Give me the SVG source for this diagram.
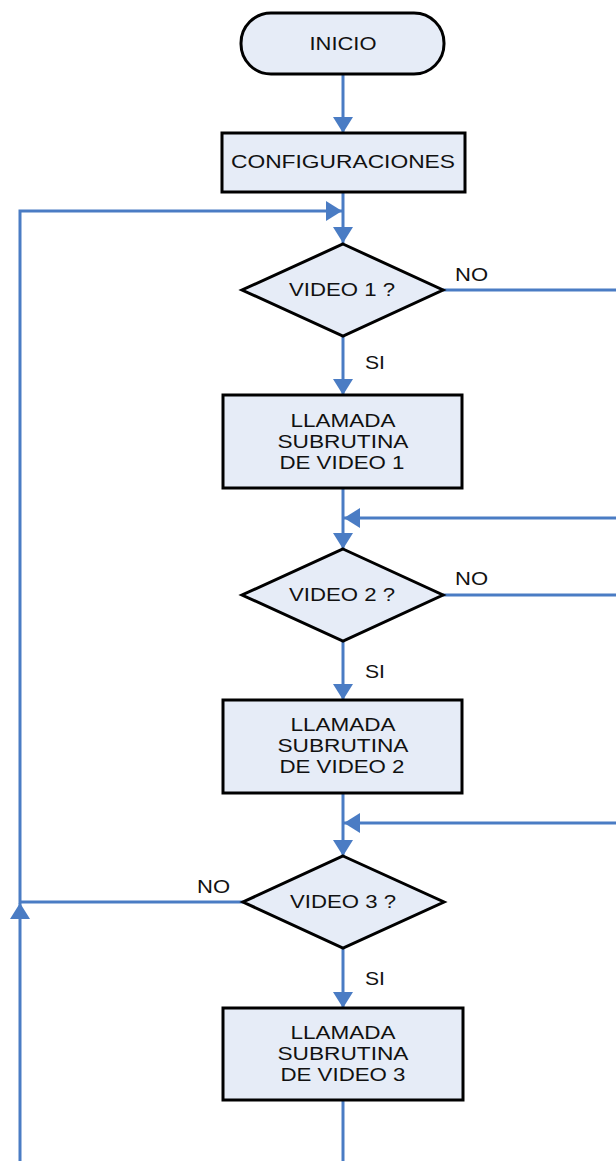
<svg xmlns="http://www.w3.org/2000/svg" width="616" height="1161" viewBox="0 0 616 1161">
<style>
.shape{fill:#E6ECF7;stroke:#000;stroke-width:3}
.conn{fill:none;stroke:#4A7CC4;stroke-width:3}
text{font-family:"Liberation Sans",Arial,sans-serif;font-size:18px;fill:#111;text-anchor:middle}
.lbl{text-anchor:start}
</style>
<defs>
<marker id="ah" viewBox="0 0 16 20" refX="16" refY="10" markerWidth="16" markerHeight="20" orient="auto" markerUnits="userSpaceOnUse">
<path d="M0,0 L16,10 L0,20 z" fill="#4A7CC4"/>
</marker>
</defs>
<rect width="616" height="1161" fill="#fff"/>
<g id="connectors">
<path class="conn" d="M343,74 V133" marker-end="url(#ah)"/>
<path class="conn" d="M343,192 V243" marker-end="url(#ah)"/>
<path class="conn" d="M20,1161 V903" marker-end="url(#ah)"/>
<path class="conn" d="M243,902 H20 V211 H342" marker-end="url(#ah)"/>
<path class="conn" d="M343,336 V395" marker-end="url(#ah)"/>
<path class="conn" d="M443,290 H625 V518 H344" marker-end="url(#ah)"/>
<path class="conn" d="M343,488 V549" marker-end="url(#ah)"/>
<path class="conn" d="M343,641 V700" marker-end="url(#ah)"/>
<path class="conn" d="M443,595 H625 V823 H344" marker-end="url(#ah)"/>
<path class="conn" d="M343,793 V856" marker-end="url(#ah)"/>
<path class="conn" d="M343,948 V1008" marker-end="url(#ah)"/>
<path class="conn" d="M343,1100 V1161"/>
<text class="lbl" x="455" y="281" textLength="33" lengthAdjust="spacingAndGlyphs">NO</text>
<text class="lbl" x="365" y="369" textLength="20" lengthAdjust="spacingAndGlyphs">SI</text>
<text class="lbl" x="455" y="585" textLength="33" lengthAdjust="spacingAndGlyphs">NO</text>
<text class="lbl" x="365" y="678" textLength="20" lengthAdjust="spacingAndGlyphs">SI</text>
<text class="lbl" x="197" y="893" textLength="33" lengthAdjust="spacingAndGlyphs">NO</text>
<text class="lbl" x="365" y="985" textLength="20" lengthAdjust="spacingAndGlyphs">SI</text>
</g>
<g id="inicio">
<rect class="shape" x="241" y="13" width="203" height="61" rx="30" ry="30"/>
<text x="343" y="50" textLength="67" lengthAdjust="spacingAndGlyphs">INICIO</text>
</g>
<g id="configuraciones">
<rect class="shape" x="222" y="133" width="243" height="59"/>
<text x="343" y="168" textLength="224" lengthAdjust="spacingAndGlyphs">CONFIGURACIONES</text>
</g>
<g id="video1">
<polygon class="shape" points="343,244 443,290 343,336 242,290"/>
<text x="342" y="296" textLength="106" lengthAdjust="spacingAndGlyphs">VIDEO 1 ?</text>
</g>
<g id="sub1">
<rect class="shape" x="223" y="395" width="239" height="93"/>
<text x="343" y="427" textLength="105" lengthAdjust="spacingAndGlyphs">LLAMADA</text>
<text x="343" y="448" textLength="131" lengthAdjust="spacingAndGlyphs">SUBRUTINA</text>
<text x="342" y="469" textLength="125" lengthAdjust="spacingAndGlyphs">DE VIDEO 1</text>
</g>
<g id="video2">
<polygon class="shape" points="343,549 443,595 343,641 242,595"/>
<text x="342" y="601" textLength="106" lengthAdjust="spacingAndGlyphs">VIDEO 2 ?</text>
</g>
<g id="sub2">
<rect class="shape" x="223" y="700" width="239" height="93"/>
<text x="343" y="731" textLength="105" lengthAdjust="spacingAndGlyphs">LLAMADA</text>
<text x="343" y="752" textLength="131" lengthAdjust="spacingAndGlyphs">SUBRUTINA</text>
<text x="342" y="773" textLength="125" lengthAdjust="spacingAndGlyphs">DE VIDEO 2</text>
</g>
<g id="video3">
<polygon class="shape" points="343,856 444,902 343,948 243,902"/>
<text x="343" y="908" textLength="106" lengthAdjust="spacingAndGlyphs">VIDEO 3 ?</text>
</g>
<g id="sub3">
<rect class="shape" x="223" y="1008" width="240" height="92"/>
<text x="343" y="1039" textLength="105" lengthAdjust="spacingAndGlyphs">LLAMADA</text>
<text x="343" y="1060" textLength="131" lengthAdjust="spacingAndGlyphs">SUBRUTINA</text>
<text x="343" y="1081" textLength="125" lengthAdjust="spacingAndGlyphs">DE VIDEO 3</text>
</g>
</svg>
